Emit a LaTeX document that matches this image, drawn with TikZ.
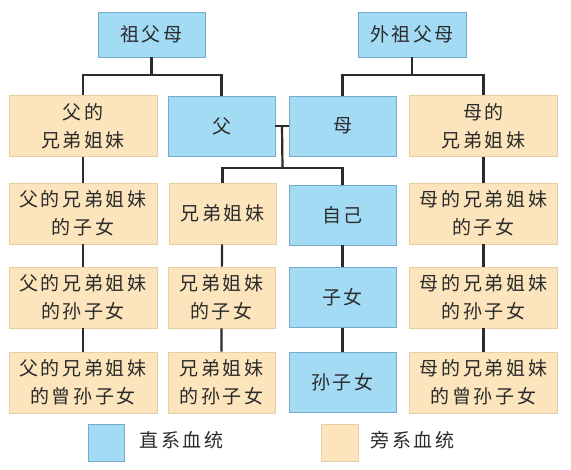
\documentclass[tikz,border=0pt]{standalone}
\usepackage{fontspec}
\newfontfamily\cjk[LetterSpace=14]{Noto Sans CJK SC}
\definecolor{zhixi}{HTML}{A3DBF5}
\definecolor{zhixiline}{HTML}{74AACB}
\definecolor{pangxi}{HTML}{FCE4BC}
\definecolor{pangxiline}{HTML}{E6CFA2}
\definecolor{ink}{HTML}{2B2B2B}
\begin{document}
\begin{tikzpicture}[x=1pt,y=-1pt,
  zx/.style={draw=zhixiline,fill=zhixi,line width=0.8pt,minimum height=60pt,align=center,inner sep=0pt,text=ink,font=\cjk\fontsize{19}{28}\selectfont},
  px/.style={draw=pangxiline,fill=pangxi,line width=0.8pt,minimum height=61pt,align=center,inner sep=0pt,text=ink,font=\cjk\fontsize{19}{28}\selectfont},
  link/.style={draw=ink,line width=2.2pt}]
\useasboundingbox (0,0) rectangle (571,470);

% grandparents
\node[zx,minimum width=107pt,minimum height=45pt] (zfm) at (151.5,34.5) {祖父母};
\node[zx,minimum width=108pt,minimum height=45pt] (wzfm) at (412,34.5) {外祖父母};

% parents
\node[px,minimum width=148pt] (fxd) at (83,126) {父的\\兄弟姐妹};
\node[zx,minimum width=107pt] (fu) at (221.5,126) {父};
\node[zx,minimum width=107pt] (mu) at (342.5,126) {母};
\node[px,minimum width=148pt] (mxd) at (483.5,126) {母的\\兄弟姐妹};

% own generation
\node[px,minimum width=148pt] (fxdzn) at (83,213.5) {父的兄弟姐妹\\的子女};
\node[px,minimum width=107pt] (xd) at (222.5,213.5) {兄弟姐妹};
\node[zx,minimum width=107pt] (zj) at (342.5,215) {自己};
\node[px,minimum width=148pt] (mxdzn) at (483.5,213.5) {母的兄弟姐妹\\的子女};

% children
\node[px,minimum width=148pt] (fxdsz) at (83,297.5) {父的兄弟姐妹\\的孙子女};
\node[px,minimum width=107pt] (xdzn) at (221.5,297.5) {兄弟姐妹\\的子女};
\node[zx,minimum width=107pt] (zn) at (342.5,297.5) {子女};
\node[px,minimum width=148pt] (mxdsz) at (483.5,297.5) {母的兄弟姐妹\\的孙子女};

% grandchildren
\node[px,minimum width=148pt] (fxdzs) at (83,382.5) {父的兄弟姐妹\\的曾孙子女};
\node[px,minimum width=107pt] (xdsz) at (221.5,382.5) {兄弟姐妹\\的孙子女};
\node[zx,minimum width=107pt] (szn) at (342.5,382.5) {孙子女};
\node[px,minimum width=148pt] (mxdzs) at (483.5,382.5) {母的兄弟姐妹\\的曾孙子女};

% legend
\node[zx,minimum width=36pt,minimum height=37pt] (lzx) at (106,442.5) {};
\node[anchor=west,text=ink,font=\cjk\fontsize{19}{20}\selectfont] (tzx) at (136,440) {直系血统};
\node[px,minimum width=37pt,minimum height=37pt] (lpx) at (339.5,442.5) {};
\node[anchor=west,text=ink,font=\cjk\fontsize{19}{20}\selectfont] (tpx) at (367,440) {旁系血统};

% links
\coordinate (zbar) at (151.5,75);
\coordinate (wbar) at (412,75);
\coordinate (jbar) at (282.5,168);
\draw[link] (zfm) -- (zbar);
\draw[link] (fxd) |- (zbar) -| (fu);
\draw[link] (wzfm) -- (wbar);
\draw[link] (mu) |- (wbar) -| (mxd);
\draw[link] (fu) -- coordinate[midway] (fm) (mu);
\draw[link] (fm) -- (jbar);
\draw[link] (xd) |- (jbar) -| (zj);
\draw[link] (fxd) -- (fxdzn) -- (fxdsz) -- (fxdzs);
\draw[link] (xd) -- (xdzn) -- (xdsz);
\draw[link] (zj) -- (zn) -- (szn);
\draw[link] (mxd) -- (mxdzn) -- (mxdsz) -- (mxdzs);
\end{tikzpicture}
\end{document}
